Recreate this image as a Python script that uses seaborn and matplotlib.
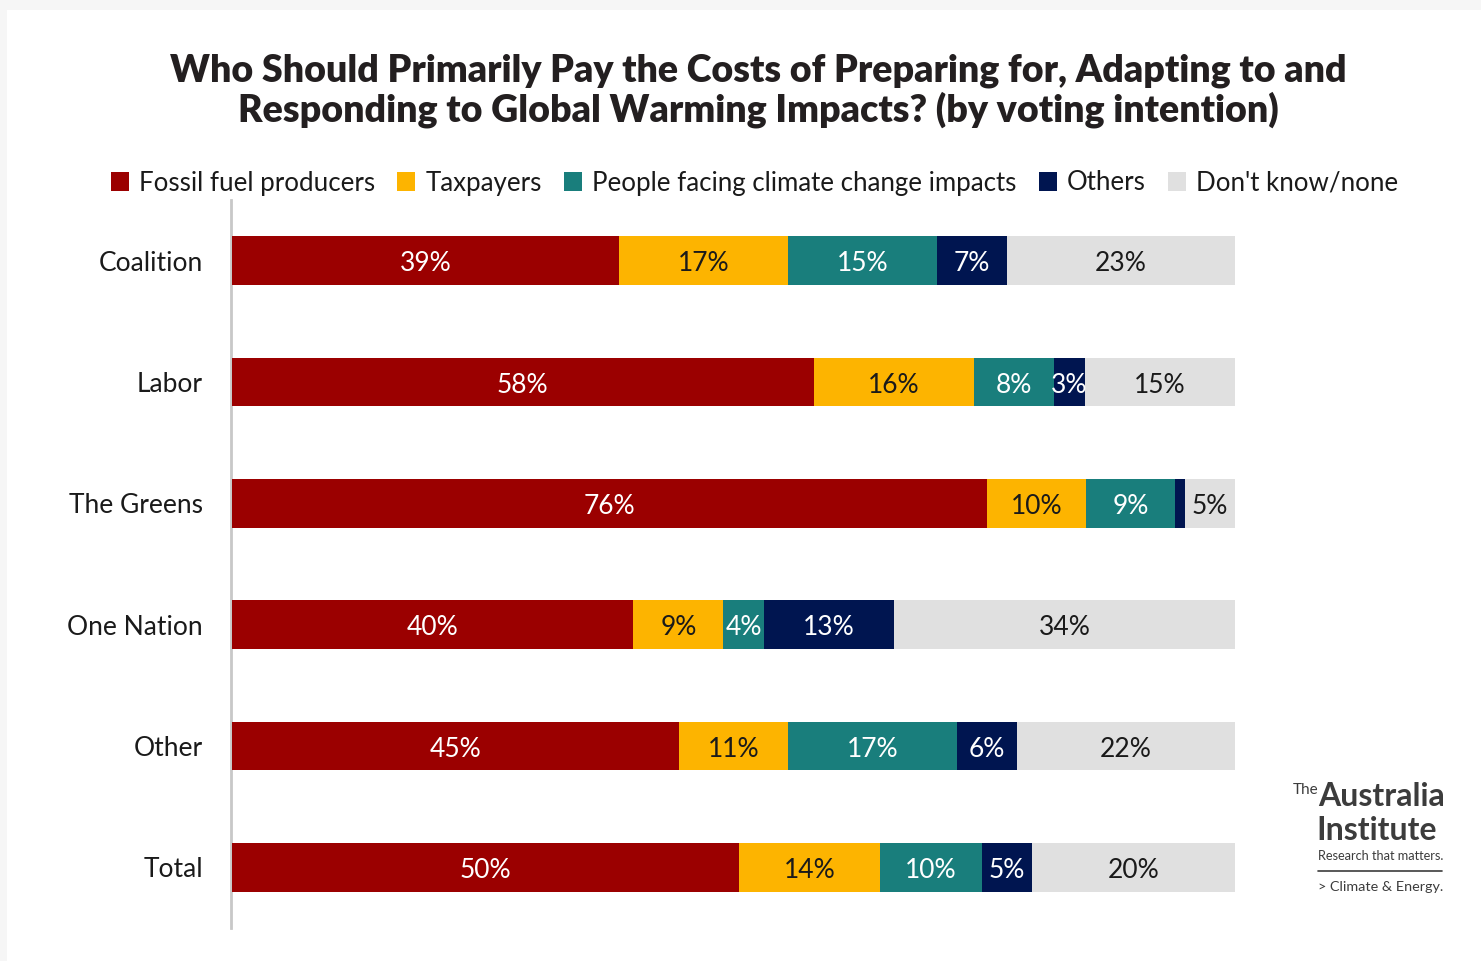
import matplotlib
matplotlib.use("Agg")
import matplotlib.pyplot as plt
from matplotlib.patches import Rectangle
import seaborn as sns
import numpy as np
import pandas as pd

parties = ["Coalition", "Labor", "The Greens", "One Nation", "Other", "Total"]
series = ["Fossil fuel producers", "Taxpayers", "People facing climate change impacts",
          "Others", "Don't know/none"]
fossil = [39, 58, 76, 40, 45, 50]
taxpayers = [17, 16, 10, 9, 11, 14]
people = [15, 8, 9, 4, 17, 10]
others = [7, 3, 1, 13, 6, 5]
dontknow = [23, 15, 5, 34, 22, 20]
# segments too thin to carry a label
hidden_labels = {("The Greens", "Others")}

colors = ["#9B0000", "#FDB400", "#197E7C", "#001550", "#E0E0E0"]
text_colors = ["white", "#1a1a1a", "white", "white", "#1a1a1a"]

sns.set_style("white")
plt.rcParams["font.family"] = ["Lato", "DejaVu Sans"]

values = np.array([fossil, taxpayers, people, others, dontknow], dtype=float)
shares = values / values.sum(axis=0) * 100  # 100% stacked
cum = np.cumsum(shares, axis=0)
starts = cum - shares

fig = plt.figure(figsize=(14.81, 9.61), dpi=100)
fig.patch.set_facecolor("#F6F6F6")
fig.patches.append(Rectangle((7 / 1481, 0), 1, 1 - 10 / 961, transform=fig.transFigure,
                             facecolor="white", edgecolor="none", zorder=-5))

ax = fig.add_axes([232 / 1481, 1 - 928 / 961, (1235 - 232) / 1481, (928 - 200) / 961])
ax.set_facecolor("none")

# stacked bars: cumulative totals drawn from the outermost segment inwards
for i in range(len(series) - 1, -1, -1):
    df = pd.DataFrame({"party": parties, "value": cum[i]})
    sns.barplot(data=df, x="value", y="party", orient="h", color=colors[i],
                width=0.4, saturation=1, linewidth=0, ax=ax, zorder=2 + (len(series) - i))

for i, name in enumerate(series):
    for j, party in enumerate(parties):
        if (party, name) in hidden_labels:
            continue
        ax.text(starts[i, j] + shares[i, j] / 2, j + 0.025, f"{int(values[i, j])}%",
                ha="center", va="center", fontsize=19, color=text_colors[i], zorder=20)

ax.set_xlim(0, 100)
ax.set_ylim(5.5, -0.5)
ax.set_xlabel("")
ax.set_ylabel("")
ax.set_xticks([])
ax.tick_params(axis="y", length=0, pad=20, labelsize=19, labelcolor="#1a1a1a")
for s in ["top", "right", "bottom"]:
    ax.spines[s].set_visible(False)
ax.spines["left"].set_color("#C8C8C8")
ax.spines["left"].set_linewidth(2)
ax.spines["left"].set_position(("outward", 1))

# legend
handles = [Rectangle((0, 0), 1, 1, facecolor=c, edgecolor="none") for c in colors]
fig.legend(handles, series, loc="center", bbox_to_anchor=(0.5 + 14 / 1481, 1 - 183 / 961),
           ncol=5, frameon=False, fontsize=18.6, handlelength=0.7, handleheight=0.7,
           handletextpad=0.4, columnspacing=0.85, labelcolor="#1a1a1a")

fig.text(0.5 + 18 / 1481, 1 - 91 / 961,
         "Who Should Primarily Pay the Costs of Preparing for, Adapting to and\n"
         "Responding to Global Warming Impacts? (by voting intention)",
         ha="center", va="center", fontsize=27, fontweight="heavy", color="#231F20",
         linespacing=1.1)

# publisher mark
grey = "#3C3C3C"
fig.text(1293 / 1481, 1 - 790 / 961, "The", fontsize=11, color=grey, ha="left", va="center")
fig.text(1318 / 1481, 1 - 797 / 961, "Australia", fontsize=23, color=grey, ha="left",
         va="center", fontweight="bold")
fig.text(1316 / 1481, 1 - 831 / 961, "Institute", fontsize=23, color=grey, ha="left",
         va="center", fontweight="bold")
fig.text(1318 / 1481, 1 - 856 / 961, "Research that matters.", fontsize=9.2, color=grey,
         ha="left", va="center")
fig.add_artist(plt.Line2D([1318 / 1481, 1442 / 1481], [1 - 871 / 961, 1 - 871 / 961],
                          color=grey, linewidth=1.2, transform=fig.transFigure))
fig.text(1318 / 1481, 1 - 887 / 961, "> Climate & Energy.", fontsize=10.4, color=grey,
         ha="left", va="center")

fig.savefig("out.png", dpi=100, facecolor=fig.get_facecolor())
